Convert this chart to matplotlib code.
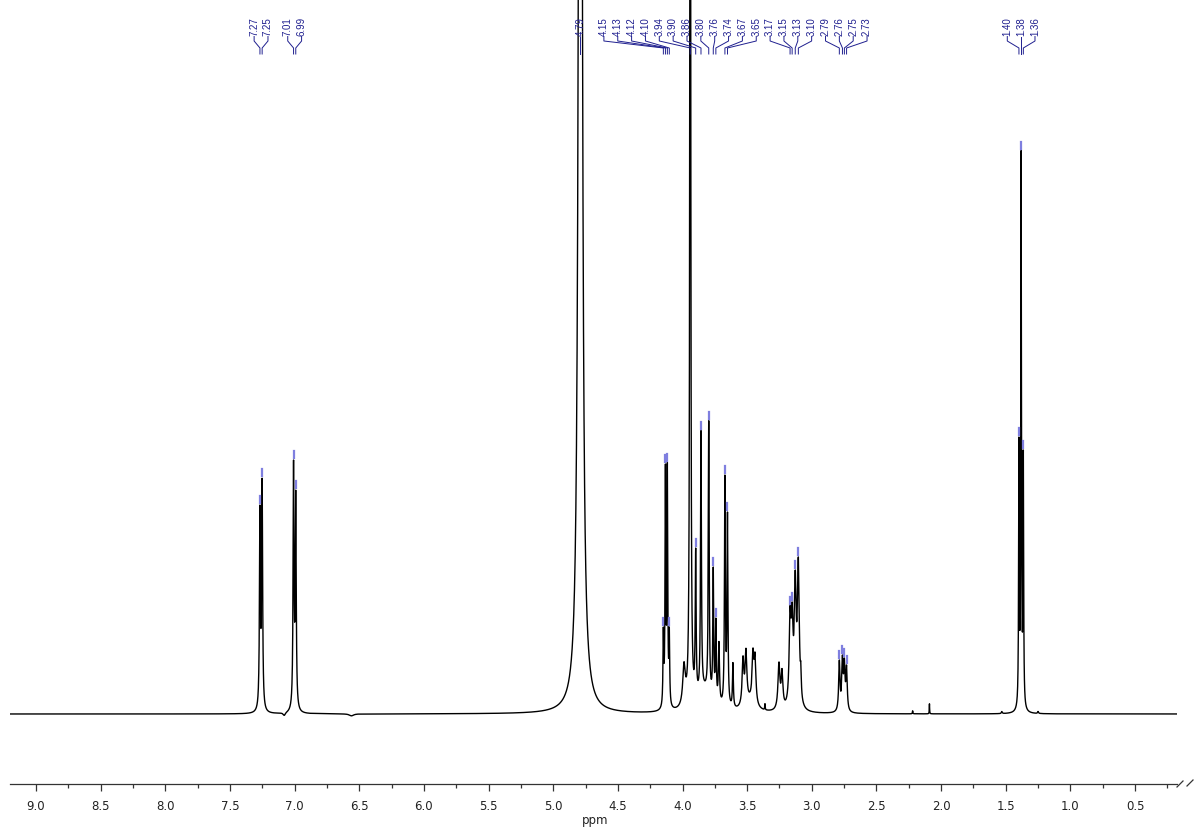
import numpy as np
import matplotlib
matplotlib.use("Agg")
import matplotlib.pyplot as plt
from matplotlib.lines import Line2D

# ---------------- data ----------------
# labelled peaks: chemical shift (ppm), height (arb.), half width (ppm), multiplet group
peak_ppm = [7.268, 7.251, 7.008, 6.991, 4.790,
            4.148, 4.132, 4.117, 4.102, 3.940, 3.898, 3.857, 3.797, 3.762, 3.742, 3.672, 3.652,
            3.168, 3.152, 3.128, 3.104, 2.787, 2.763, 2.748, 2.731,
            1.398, 1.381, 1.364]
peak_height = [209, 236, 254, 224, 2500,
               87, 250, 252, 87, 1500, 166, 284, 294, 147, 96, 239, 202,
               108, 112, 144, 157, 54, 59, 56, 49,
               277, 566, 264]
peak_width = [0.0043, 0.0043, 0.0043, 0.0043, 0.0104,
              0.0035, 0.0035, 0.0035, 0.0035, 0.0035, 0.0040, 0.0040, 0.0040, 0.0040, 0.0040, 0.0040, 0.0040,
              0.0085, 0.0085, 0.0085, 0.0085, 0.0060, 0.0060, 0.0060, 0.0060,
              0.0029, 0.0029, 0.0029]
peak_group = [0, 0, 1, 1, 2,
              3, 3, 3, 3, 3, 3, 3, 3, 3, 3, 3, 3,
              4, 4, 4, 4, 4, 4, 4, 4,
              5, 5, 5]

# unlabelled signals (humps, small impurities, background)
extra_ppm = [3.988, 3.718, 3.610, 3.532, 3.509, 3.455, 3.439, 3.254, 3.230, 3.085, 3.362,
             2.090, 2.220, 1.530, 1.250, 7.080, 6.560, 3.830, 3.480]
extra_height = [40, 60, 44, 45, 50, 46, 44, 45, 35, 22, 6,
                10, 3, 2, 2, -3, -2, 20, 10]
extra_width = [0.012, 0.005, 0.004, 0.008, 0.008, 0.008, 0.008, 0.009, 0.008, 0.004, 0.002,
               0.0015, 0.002, 0.004, 0.004, 0.010, 0.020, 0.060, 0.050]

major_ticks = [9.0, 8.5, 8.0, 7.5, 7.0, 6.5, 6.0, 5.5, 5.0, 4.5, 4.0, 3.5, 3.0, 2.5, 2.0, 1.5, 1.0, 0.5]
tick_labels = ["9.0", "8.5", "8.0", "7.5", "7.0", "6.5", "6.0", "5.5", "5.0", "4.5",
               "4.0", "3.5", "3.0", "2.5", "2.0", "1.5", "1.0", "0.5"]

# ---------------- build spectrum ----------------
def lor(x, c, w):
    return 1.0 / (1.0 + ((x - c) / w) ** 2)

pp = np.array(peak_ppm); ph = np.array(peak_height, float); pw = np.array(peak_width)
ep = np.array(extra_ppm); eh = np.array(extra_height, float); ew = np.array(extra_width)

def extras(x):
    return sum(h * lor(x, c, w) for c, h, w in zip(ep, eh, ew))

M = lor(pp[:, None], pp[None, :], pw[None, :])
amp = np.linalg.solve(M, ph - extras(pp))
amp = np.clip(amp, 0, None)

x = np.arange(0.10, 9.30, 0.0004)
y = extras(x) + sum(a * lor(x, c, w) for a, c, w in zip(amp, pp, pw))

# ---------------- figure ----------------
W, H = 1200, 838
fig = plt.figure(figsize=(W / 100, H / 100), dpi=100)
PXPPM = 129.3
x_left_ppm = 9.0 + 26 / PXPPM
x_right_ppm = 9.0 - 1141 / PXPPM
ax = fig.add_axes([10 / W, 54 / H, 1167 / W, 784 / H])
ax.set_xlim(x_left_ppm, x_right_ppm)
ax.set_ylim(-70, 714)

def py(ypx):  # pixel row -> data y
    return 714 - ypx

ax.plot(x, y, color="black", lw=1.0)

for s in ["top", "left", "right"]:
    ax.spines[s].set_visible(False)
ax.spines["bottom"].set_color("#333333")
ax.spines["bottom"].set_linewidth(0.9)
ax.set_yticks([])
ax.set_xticks(major_ticks)
ax.set_xticklabels(tick_labels, fontsize=8.5, color="#222222", family="DejaVu Sans")
ax.set_xticks(np.arange(0.25, 9.2, 0.5), minor=True)
ax.tick_params(axis="x", which="major", direction="out", length=5.2, width=0.9, color="#333333", pad=6)
ax.tick_params(axis="x", which="minor", direction="out", length=3.0, width=0.9, color="#333333")

fig.text(595 / W, 1 - 820 / H, "ppm", ha="center", va="center", fontsize=8.5, color="#222222")

# axis break marks
for x0, x1, y0, y1 in [(1177, 1183, 787, 781), (1187, 1193, 786, 780)]:
    fig.add_artist(Line2D([x0 / W, x1 / W], [1 - y0 / H, 1 - y1 / H], color="#333333", lw=0.9))

# ---------------- peak labels ----------------
lab_col = "#1f1f8f"
mark_col = "#7f7fdf"
s = 13.85 / PXPPM
groups = sorted(set(peak_group))
label_pos = {}
centers = {}
for g in groups:
    idx = [i for i in range(len(pp)) if peak_group[i] == g]
    idx.sort(key=lambda i: -pp[i])
    n = len(idx)
    c = np.mean(pp[idx])
    centers[g] = [c + s * ((n - 1) / 2 - k) for k in range(n)]
    label_pos[g] = idx
# resolve overlaps, right to left
order = sorted(groups, key=lambda g: np.mean(pp[label_pos[g]]))
for a, b in zip(order[1:], order[:-1]):
    low_a = min(centers[a]); high_b = max(centers[b])
    if low_a < high_b + s:
        shift = high_b + s - low_a
        centers[a] = [v + shift for v in centers[a]]

for g in groups:
    for i, lx in zip(label_pos[g], centers[g]):
        ax.text(lx, py(36), f"{pp[i]:.2f}", rotation=90, ha="center", va="bottom",
                fontsize=7, color=lab_col, family="Liberation Sans", clip_on=False)
        ax.plot([lx, lx, pp[i], pp[i]], [py(36.5), py(41), py(48), py(54)],
                color=lab_col, lw=0.7, clip_on=False)
        top = np.interp(pp[i], x, y)
        ax.plot([pp[i], pp[i]], [top + 2, top + 9], color=mark_col, lw=1.6, clip_on=True)

fig.savefig("out.png", dpi=100)
